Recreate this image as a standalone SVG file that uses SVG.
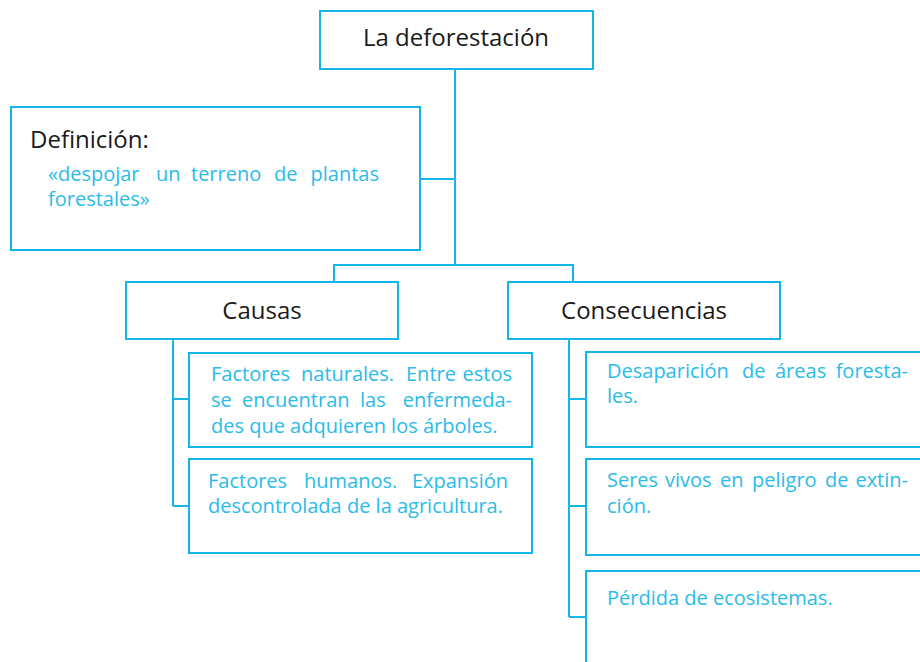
<svg xmlns="http://www.w3.org/2000/svg" width="920" height="662" viewBox="0 0 920 662">
<style>
.box{fill:#fff;stroke:#14b6ea;stroke-width:2}
.ln{fill:none;stroke:#14b6ea;stroke-width:2}
.h{font-family:"Open Sans","Noto Sans",sans-serif;font-size:24px;fill:#1a1a1a}
.b{font-family:"Open Sans","Noto Sans",sans-serif;font-size:20px;fill:#2bbbe9}
</style>
<rect width="920" height="662" fill="#fff"/>
<g id="connectors">
<path class="ln" d="M455 69V265M334 282V265H573V282M420 179H455"/>
<path class="ln" d="M173 339V506M173 399H189M173 506H189"/>
<path class="ln" d="M569 339V617M569 399H586M569 506H586M569 617H586"/>
</g>
<g id="root">
<rect class="box" x="320" y="11" width="273" height="58"/>
<text class="h" x="456" y="46" text-anchor="middle">La deforestación</text>
</g>
<g id="definicion">
<rect class="box" x="11" y="107" width="409" height="143"/>
<text class="h" x="30" y="148">Definición:</text>
<text class="b" y="181"><tspan x="48">«despojar</tspan><tspan x="156">un</tspan><tspan x="191">terreno</tspan><tspan x="274">de</tspan><tspan x="379" text-anchor="end">plantas</tspan></text>
<text class="b" x="48" y="206">forestales»</text>
</g>
<g id="causas">
<rect class="box" x="126" y="282" width="272" height="57"/>
<text class="h" x="262" y="319" text-anchor="middle">Causas</text>
</g>
<g id="consecuencias">
<rect class="box" x="508" y="282" width="272" height="57"/>
<text class="h" x="644" y="319" text-anchor="middle">Consecuencias</text>
</g>
<g id="factores-naturales">
<rect class="box" x="189" y="353" width="343" height="94"/>
<text class="b" y="381"><tspan x="211">Factores</tspan><tspan x="301">naturales.</tspan><tspan x="406">Entre</tspan><tspan x="512" text-anchor="end">estos</tspan></text>
<text class="b" y="407"><tspan x="211">se</tspan><tspan x="242">encuentran</tspan><tspan x="360">las</tspan><tspan x="512" text-anchor="end">enfermeda-</tspan></text>
<text class="b" x="211" y="433">des que adquieren los árboles.</text>
</g>
<g id="factores-humanos">
<rect class="box" x="189" y="459" width="343" height="94"/>
<text class="b" y="488"><tspan x="208">Factores</tspan><tspan x="304">humanos.</tspan><tspan x="508" text-anchor="end">Expansión</tspan></text>
<text class="b" x="208" y="513">descontrolada de la agricultura.</text>
</g>
<g id="desaparicion">
<rect class="box" x="586" y="352" width="340" height="95"/>
<text class="b" y="378"><tspan x="607">Desaparición</tspan><tspan x="742">de</tspan><tspan x="775">áreas</tspan><tspan x="908" text-anchor="end">foresta-</tspan></text>
<text class="b" x="607" y="403">les.</text>
</g>
<g id="seres-vivos">
<rect class="box" x="586" y="459" width="340" height="96"/>
<text class="b" y="487"><tspan x="607">Seres</tspan><tspan x="665">vivos</tspan><tspan x="720">en</tspan><tspan x="752">peligro</tspan><tspan x="825">de</tspan><tspan x="908" text-anchor="end">extin-</tspan></text>
<text class="b" x="607" y="513">ción.</text>
</g>
<g id="perdida">
<rect class="box" x="586" y="571" width="340" height="100"/>
<text class="b" x="607" y="605">Pérdida de ecosistemas.</text>
</g>
</svg>
